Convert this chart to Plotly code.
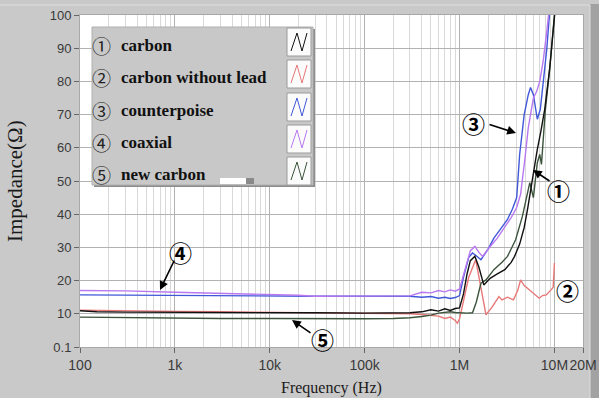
import plotly.graph_objects as go

# ---------------- data ----------------
series_names = ["carbon", "carbon without lead", "counterpoise", "coaxial", "new carbon"]
series_marks = ["①", "②", "③", "④", "⑤"]
series_colors = ["#111111", "#e87878", "#4058d8", "#b878f0", "#3c543c"]

f_carbon = [100, 150, 300, 1e3, 3e3, 1e4, 3e4, 1e5, 2e5, 3e5, 4e5, 5e5, 6e5, 7e5, 8e5, 9e5,
            1.0e6, 1.1e6, 1.2e6, 1.3e6, 1.45e6, 1.6e6, 1.8e6, 2.1e6, 2.5e6, 3.0e6, 3.5e6, 3.8e6,
            4.3e6, 4.8e6, 5.2e6, 6.0e6, 6.6e6, 7.2e6, 7.9e6, 8.9e6, 1.0e7, 1.05e7]
z_carbon = [10.9, 10.6, 10.5, 10.5, 10.4, 10.3, 10.3, 10.2, 10.2, 10.3, 10.6, 11.2, 10.8, 11.5, 11.0, 11.6,
            11.8, 16.0, 22.0, 26.0, 27.3, 24.0, 18.7, 20.7, 22.0, 23.3, 25.5, 27.3,
            31.0, 36.0, 41.4, 52.5, 59.5, 65.0, 71.6, 83.7, 99.0, 106.0]

f_nolead = [100, 150, 300, 1e3, 3e3, 1e4, 3e4, 1e5, 2e5, 3e5, 4e5, 5e5, 6e5, 7e5, 8e5, 9e5, 9.5e5,
            1.0e6, 1.1e6, 1.25e6, 1.48e6, 1.7e6, 1.9e6, 2.2e6, 2.6e6, 2.8e6, 3.2e6, 3.7e6, 4.1e6,
            4.4e6, 4.8e6, 5.2e6, 6.0e6, 6.9e6, 7.5e6, 8.2e6, 9.2e6, 9.7e6, 1.0e7]
z_nolead = [11.1, 11.0, 10.8, 10.7, 10.6, 10.5, 10.4, 10.3, 10.2, 10.0, 9.8, 9.5, 9.3, 8.6, 9.0, 8.0, 7.2,
            8.5, 14.0, 21.0, 26.3, 17.0, 9.7, 12.0, 15.2, 14.2, 15.0, 14.2, 17.0,
            20.2, 18.5, 17.7, 16.2, 14.7, 15.5, 15.7, 17.2, 18.0, 25.3]

f_counter = [100, 300, 1e3, 3e3, 1e4, 3e4, 1e5, 3e5, 4e5, 5e5, 6e5, 7e5, 8e5, 9e5,
             1.0e6, 1.1e6, 1.25e6, 1.37e6, 1.5e6, 1.68e6, 2.0e6, 2.3e6, 2.7e6, 3.2e6, 3.6e6,
             4.0e6, 4.3e6, 4.8e6, 5.3e6, 5.6e6, 6.0e6, 6.6e6, 7.1e6, 7.8e6, 8.3e6, 8.9e6, 9.3e6]
z_counter = [15.7, 15.6, 15.5, 15.5, 15.4, 15.3, 15.3, 15.3, 15.0, 15.2, 14.7, 15.0, 14.6, 14.9,
             15.5, 21.0, 27.0, 28.3, 27.5, 26.3, 29.5, 32.8, 35.5, 38.4, 41.5,
             45.0, 58.0, 70.0, 76.0, 78.2, 76.0, 68.6, 71.6, 82.0, 89.7, 100.8, 108.0]

f_coax = [100, 300, 1e3, 3e3, 1e4, 2e4, 3e4, 1e5, 3e5, 4e5, 5e5, 6e5, 7e5, 8e5, 9e5,
          1.0e6, 1.1e6, 1.3e6, 1.45e6, 1.6e6, 1.75e6, 2.0e6, 2.5e6, 3.0e6, 3.5e6, 4.0e6,
          4.4e6, 4.9e6, 5.3e6, 6.0e6, 6.5e6, 7.0e6, 7.6e6, 8.3e6, 8.8e6, 9.3e6]
z_coax = [17.0, 16.9, 16.5, 16.2, 16.0, 15.6, 15.3, 15.3, 15.4, 16.5, 16.3, 17.0, 16.6, 17.2, 16.8,
          17.5, 22.0, 29.0, 30.3, 28.5, 27.3, 29.5, 32.8, 36.0, 39.0, 42.0,
          46.0, 57.0, 66.0, 75.0, 77.0, 80.0, 86.0, 95.0, 101.0, 108.0]

f_new = [100, 300, 1e3, 3e3, 1e4, 3e4, 1e5, 2e5, 3e5, 4e5, 5e5, 6e5, 7e5, 8e5, 9e5,
         1.0e6, 1.2e6, 1.37e6, 1.5e6, 1.68e6, 1.9e6, 2.3e6, 2.8e6, 3.2e6, 3.9e6, 4.6e6,
         5.2e6, 5.5e6, 6.0e6, 6.6e6, 7.0e6, 7.3e6, 8.0e6, 9.0e6, 1.0e7, 1.05e7]
z_new = [9.0, 8.8, 8.7, 8.6, 8.6, 8.5, 8.5, 8.6, 8.8, 9.2, 9.6, 10.2, 10.3, 10.6, 10.4,
         10.3, 10.2, 10.3, 13.5, 19.2, 20.2, 23.3, 25.5, 27.3, 32.3, 39.4,
         46.4, 49.5, 45.0, 55.5, 58.0, 55.0, 71.0, 85.0, 100.0, 106.0]

x_tickvals = [1e2, 1e3, 1e4, 1e5, 1e6, 1e7, 2e7]
x_ticktext = ["100", "1k", "10k", "100k", "1M", "10M", "20M"]
y_tickvals = [0, 10, 20, 30, 40, 50, 60, 70, 80, 90, 100]
y_ticktext = ["0.1", "10", "20", "30", "40", "50", "60", "70", "80", "90", "100"]

# ---------------- layout geometry ----------------
W, H = 599, 398
L, R, T, B = 80, 583, 15, 347


def xp(px):
    return (px - L) / (R - L)


def yp(py):
    return (B - py) / (B - T)


fig = go.Figure()
freqs = [f_carbon, f_nolead, f_counter, f_coax, f_new]
vals = [z_carbon, z_nolead, z_counter, z_coax, z_new]
order = [2, 3, 1, 4, 0]
for i in order:
    fig.add_trace(go.Scatter(x=freqs[i], y=vals[i], mode="lines", name=series_names[i],
                             line=dict(color=series_colors[i], width=1.4), showlegend=False))

minor_vals = [m * 10 ** d for d in range(2, 8) for m in range(2, 10) if m * 10 ** d < 2e7]

shapes = []
# right dark stripe of the frame
shapes.append(dict(type="rect", xref="paper", yref="paper", x0=xp(590), x1=xp(600), y0=yp(399), y1=yp(4),
                   fillcolor="#a2a2a2", line=dict(width=0), layer="below"))
shapes.append(dict(type="rect", xref="paper", yref="paper", x0=xp(-1), x1=xp(590), y0=yp(399), y1=yp(5),
                   fillcolor="rgba(0,0,0,0)", line=dict(color="#dedede", width=1), layer="below"))

# legend box
lx0, lx1, ly0, ly1 = 92, 313, 27, 185
shapes.append(dict(type="rect", xref="paper", yref="paper", x0=xp(lx0 + 2), x1=xp(lx1 + 2), y0=yp(ly1 + 2),
                   y1=yp(ly0 + 2), fillcolor="#8c8c8c", line=dict(width=0), layer="above"))
shapes.append(dict(type="rect", xref="paper", yref="paper", x0=xp(lx0), x1=xp(lx1), y0=yp(ly1), y1=yp(ly0),
                   fillcolor="#c8c8c8", line=dict(color="#b0b0b0", width=1), layer="above"))
shapes.append(dict(type="rect", xref="paper", yref="paper", x0=xp(220), x1=xp(246), y0=yp(184), y1=yp(178),
                   fillcolor="#ffffff", line=dict(width=0), layer="above"))
shapes.append(dict(type="rect", xref="paper", yref="paper", x0=xp(246), x1=xp(254), y0=yp(184), y1=yp(178),
                   fillcolor="#8a8a8a", line=dict(width=0), layer="above"))

row_tops = [28, 60, 93, 125, 157]
sx0, sx1 = 287, 311
annotations = []
for k in range(5):
    t0 = row_tops[k]
    b0 = t0 + 28
    shapes.append(dict(type="rect", xref="paper", yref="paper", x0=xp(sx0), x1=xp(sx1), y0=yp(b0), y1=yp(t0),
                       fillcolor="#fbfbfb", line=dict(color="#9a9a9a", width=1), layer="above"))
    gx = [sx0 + 4, sx0 + 10, sx0 + 15, sx0 + 20]
    gy = [b0 - 5, t0 + 5, b0 - 5, t0 + 5]
    path = "M {} {} L {} {} L {} {} L {} {}".format(
        xp(gx[0]), yp(gy[0]), xp(gx[1]), yp(gy[1]), xp(gx[2]), yp(gy[2]), xp(gx[3]), yp(gy[3]))
    shapes.append(dict(type="path", xref="paper", yref="paper", path=path,
                       line=dict(color=series_colors[k], width=1), layer="above"))
    cy = t0 + 17
    annotations.append(dict(xref="paper", yref="paper", x=xp(101), y=yp(cy), text=series_marks[k],
                            showarrow=False, xanchor="center", yanchor="middle",
                            font=dict(family="Noto Sans CJK JP", size=19, color="#222222")))
    annotations.append(dict(xref="paper", yref="paper", x=xp(119), y=yp(cy), text="<b>" + series_names[k] + "</b>",
                            showarrow=False, xanchor="left", yanchor="middle",
                            font=dict(family="Liberation Serif", size=17, color="#111111")))

# callouts: (label px, label py, arrow tail px, py, arrow tip px, py)
callouts = [
    ("③", 473, 123, 488, 124, 516, 133),
    ("①", 558, 190, 551, 182, 533, 170),
    ("②", 567, 290, None, None, None, None),
    ("④", 180, 252, 175, 259, 160, 290),
    ("⑤", 322, 339, 312, 334, 292, 320),
]
for lab, lpx, lpy, tpx, tpy, hpx, hpy in callouts:
    annotations.append(dict(xref="paper", yref="paper", x=xp(lpx), y=yp(lpy), text="<b>" + lab + "</b>",
                            showarrow=False, xanchor="center", yanchor="middle",
                            font=dict(family="Noto Sans CJK JP", size=23, color="#000000")))
    if tpx is not None:
        annotations.append(dict(xref="paper", yref="paper", x=xp(hpx), y=yp(hpy), text="",
                                showarrow=True, axref="pixel", ayref="pixel", ax=tpx - hpx, ay=tpy - hpy,
                                arrowhead=2, arrowsize=1.1, arrowwidth=1.6, arrowcolor="#000000"))

# axis titles
annotations.append(dict(xref="paper", yref="paper", x=xp(331), y=yp(388), text="Frequency (Hz)",
                        showarrow=False, xanchor="center", yanchor="middle",
                        font=dict(family="Liberation Serif", size=16, color="#1a1a1a")))
annotations.append(dict(xref="paper", yref="paper", x=xp(15), y=yp(181), text="Impedance(Ω)", textangle=-90,
                        showarrow=False, xanchor="center", yanchor="middle",
                        font=dict(family="Liberation Serif", size=21, color="#1a1a1a")))

fig.update_layout(
    width=W, height=H,
    margin=dict(l=L, r=W - R, t=T, b=H - B),
    paper_bgcolor="#c9c9c9",
    plot_bgcolor="#ffffff",
    shapes=shapes,
    annotations=annotations,
    showlegend=False,
    xaxis=dict(type="log", range=[2, 7.30103], tickvals=x_tickvals, ticktext=x_ticktext, tickangle=0,
               automargin=False,
               showgrid=True, gridcolor="#b2b2b2", gridwidth=1,
               ticks="outside", ticklen=5, tickcolor="#666666",
               tickfont=dict(family="Liberation Sans", size=14, color="#3a3a3a"),
               minor=dict(tickvals=minor_vals, showgrid=True, gridcolor="#d9d9d9", gridwidth=1, ticks=""),
               showline=True, linecolor="#a8a8a8", mirror=True, zeroline=False),
    yaxis=dict(range=[0, 100], tickvals=y_tickvals, ticktext=y_ticktext, automargin=False,
               showgrid=True, gridcolor="#b2b2b2", gridwidth=1,
               ticks="outside", ticklen=5, tickcolor="#666666",
               tickfont=dict(family="Liberation Sans", size=13, color="#3a3a3a"),
               showline=True, linecolor="#a8a8a8", mirror=True, zeroline=False),
)

fig.write_html("out.html")
